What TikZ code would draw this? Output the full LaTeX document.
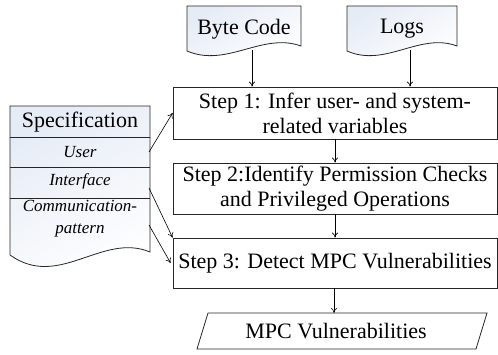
\documentclass[tikz,border=0pt]{standalone}
\usepackage{fontspec}
\setmainfont{Liberation Serif}
\usetikzlibrary{arrows.meta}

\definecolor{docblue}{RGB}{230,236,246}
\tikzset{
  docfill/.style={top color=docblue, bottom color=white, shading angle=30, draw=black!85, line width=.8pt},
  stepbox/.style={draw=black!85, line width=.8pt, minimum width=324pt, align=center, inner sep=0pt},
  flow/.style={-{To[length=5pt,width=6pt]}, line width=.6pt},
  rowtext/.style={font=\itshape\fontsize{17}{22}\selectfont, align=center},
}

\begin{document}
\begin{tikzpicture}[x=1pt, y=-1pt, font=\fontsize{22}{25}\selectfont]
\useasboundingbox (0,0) rectangle (498,354);

% input documents
\foreach \x/\w/\n/\t/\a in {187/114/bytecode/Byte Code/252, 347/110/logs/Logs/410} {
  \path[docfill] (\x,6) -- ++(\w,0) -- ++(0,40)
    .. controls +(-0.34*\w,-14) and +(0.35*\w,17) .. (\x,51) -- cycle;
  \node (\n) at (\x+0.5*\w,29) {\t};
  \coordinate (\n-b) at (\a,50);
}

% specification
\path[docfill] (10,106) -- (150,106) -- (150,252)
  .. controls (102,232) and (59,290) .. (10,255) -- cycle;
\draw[black!85, line width=.8pt] (10,137) -- (150,137) (10,167) -- (150,167) (10,198) -- (150,198);
\node (spec) at (80,122) {Specification};
\node[rowtext] (user) at (80,152) {User};
\node[rowtext] (iface) at (80,181) {Interface};
\node[rowtext] (comm) at (80,219) {Communication-\\pattern};
\coordinate (user-e) at (149,152);
\coordinate (iface-e) at (149,188);
\coordinate (comm-e) at (149,225);

% steps
\node[stepbox, minimum height=52pt] (step1) at (335,113) {Step 1: Infer user- and system-\\related variables};
\node[stepbox, minimum height=51pt] (step2) at (335,188.5) {Step 2:Identify Permission Checks\\and Privileged Operations};
\node[stepbox, minimum height=50pt] (step3) at (335,263) {Step 3: Detect MPC Vulnerabilities};

% output
\node (mpc) at (336,331) {MPC Vulnerabilities};
\draw[black!85, line width=.8pt] (197,349) -- (208,313) coordinate (mpc-nw) -- (487,313) -- (476,349) -- cycle;
\coordinate (mpc-n) at (334,313);

\draw[flow] (bytecode-b) -- (bytecode-b |- step1.north);
\draw[flow] (logs-b) -- (logs-b |- step1.north);
\draw[flow] (step1) -- (step2);
\draw[flow] (step2) -- (step3);
\draw[flow] (step3.south -| mpc-n) -- (mpc-n);
\draw[flow] (user-e) -- (step1.west);
\draw[flow] (iface-e) -- (step3.north west);
\draw[flow] (comm-e) -- ([xshift=-2pt]step3.west);
\end{tikzpicture}
\end{document}
